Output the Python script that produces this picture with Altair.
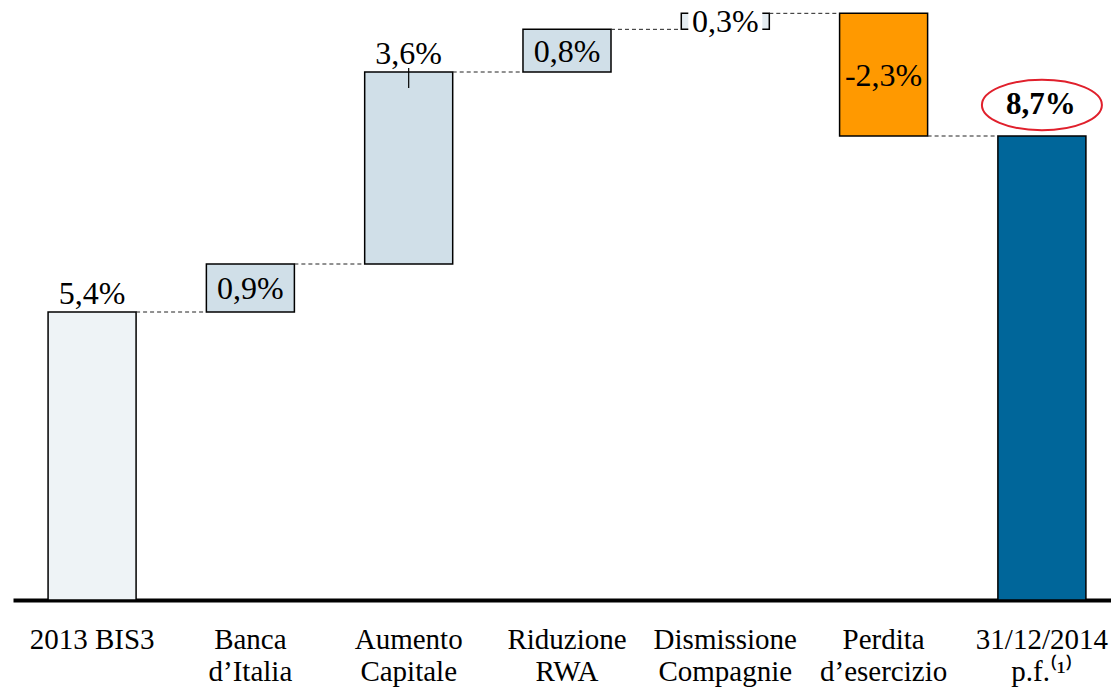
import altair as alt
import pandas as pd

categories = ["2013 BIS3", "Banca|d’Italia", "Aumento|Capitale", "Riduzione|RWA",
              "Dismissione|Compagnie", "Perdita|d’esercizio", "31/12/2014|p.f.⁽¹⁾"]
deltas = [5.4, 0.9, 3.6, 0.8, 0.3, -2.3, 8.7]
kinds = ["total", "step", "step", "step", "bracket", "down", "total"]
value_labels = ["5,4%", "0,9%", "3,6%", "0,8%", "0,3%", "-2,3%", "8,7%"]
label_pos = ["above", "inside", "above", "inside", "inside", "inside", "final"]
fills = ["#EEF3F6", "#D0DFE8", "#D0DFE8", "#D0DFE8", "#E4ECF1", "#FF9900", "#00669A"]

rows = []
running = 0.0
for i, (c, d, k) in enumerate(zip(categories, deltas, kinds)):
    if k == "total":
        start, end = 0.0, d
        running = d
    else:
        start, end = running, running + d
        running = end
    rows.append(dict(cat=c, start=start, end=end, top=max(start, end),
                     mid=(start + end) / 2, label=value_labels[i], pos=label_pos[i],
                     fill=fills[i], kind=k,
                     nxt=categories[i + 1] if i + 1 < len(categories) else None))
df = pd.DataFrame(rows)

FONT = "Liberation Serif"
xscale = alt.Scale(domain=categories, paddingInner=0.444, paddingOuter=0.19, align=0.583)
yscale = alt.Scale(domain=[0, 11.25], nice=False, zero=False)

x = alt.X("cat:N", scale=xscale, sort=categories,
          axis=alt.Axis(title=None, labelAngle=0, ticks=False, domainWidth=4, domainColor="black",
                        labelFont=FONT, labelFontSize=29, labelColor="black", labelPadding=25,
                        labelLineHeight=32, labelExpr="split(datum.label, '|')", labelLimit=300))
xs = alt.X("cat:N", sort=categories)

base = alt.Chart(df)

bars = base.mark_bar(stroke="black", strokeWidth=1.5).encode(
    x=x,
    y=alt.Y("start:Q", scale=yscale, axis=None),
    y2="end:Q",
    fill=alt.Fill("fill:N", scale=None),
)

white_gap = base.transform_filter("datum.kind == 'bracket'").transform_calculate(
    s2="datum.start - 0.1", e2="datum.end + 0.1"
).mark_bar(size=74, fill="white").encode(
    x=xs, y=alt.Y("s2:Q", axis=None), y2="e2:Q",
)

conn = base.transform_filter("datum.nxt != null").mark_rule(
    strokeDash=[4, 3], color="#222222", strokeWidth=1, xOffset=44, x2Offset=-44
).encode(
    x=xs, x2="nxt:N", y=alt.Y("end:Q", axis=None),
)

tick = base.transform_filter("datum.cat == 'Aumento|Capitale'").transform_calculate(
    t2="datum.top + 0.075"
).mark_rule(color="black", strokeWidth=1.2, yOffset=16).encode(
    x=xs, y=alt.Y("top:Q", axis=None), y2="t2:Q",
)

above = base.transform_filter("datum.pos == 'above'").mark_text(
    font=FONT, fontSize=32, baseline="bottom", dy=-1, color="black"
).encode(x=xs, y=alt.Y("top:Q", axis=None), text="label:N")

inside = base.transform_filter("datum.pos == 'inside'").mark_text(
    font=FONT, fontSize=32, baseline="middle", dy=1, color="black"
).encode(x=xs, y=alt.Y("mid:Q", axis=None), text="label:N")

final = base.transform_filter("datum.pos == 'final'")
final_label = final.mark_text(
    font=FONT, fontSize=31, fontWeight="bold", baseline="middle", dx=-1, dy=-31, color="black"
).encode(x=xs, y=alt.Y("top:Q", axis=None), text="label:N")

ellipse = final.mark_point(
    shape="M-1,0 A1,0.42 0 1,0 1,0 A1,0.42 0 1,0 -1,0",
    size=14400, filled=False, stroke="#E0202C", strokeWidth=2, opacity=1, xOffset=0, yOffset=-31
).encode(x=xs, y=alt.Y("top:Q", axis=None))

chart = alt.layer(bars, white_gap, conn, tick, above, inside, ellipse, final_label).properties(
    width=1098, height=600,
    background="white",
    autosize=alt.AutoSizeParams(type="none"),
    padding={"left": 13, "top": 0, "right": 0, "bottom": 90},
).configure_view(strokeWidth=0, stroke="transparent").configure_axisY(disable=True)

chart.save("out.html", embed_options={"renderer": "svg", "actions": False})
